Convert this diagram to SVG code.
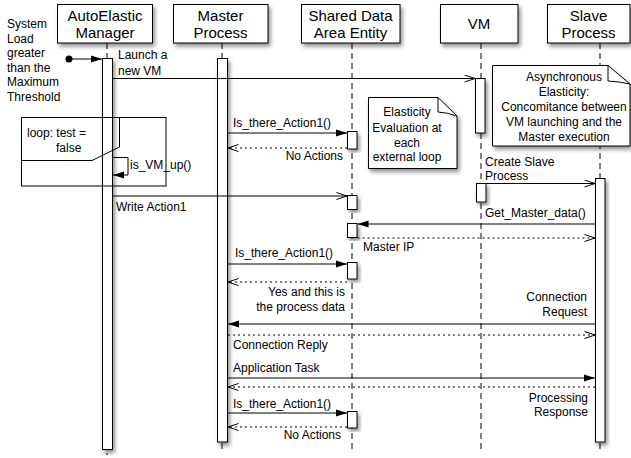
<svg xmlns="http://www.w3.org/2000/svg" width="631" height="458" viewBox="0 0 631 458">
<style>
text{font-family:"Liberation Sans",Arial,sans-serif;font-size:12px;fill:#000}
.hd{font-size:15px;text-anchor:middle}
.box{fill:#fff;stroke:#000;stroke-width:1}
.bar{fill:#fff;stroke:#000;stroke-width:1}
.life{stroke:#000;stroke-width:1;stroke-dasharray:6 4;fill:none}
.msg{stroke:#000;stroke-width:1;fill:none}
.ret{stroke:#000;stroke-width:1;fill:none;stroke-dasharray:2 3}
.r{text-anchor:end}
.c{text-anchor:middle}
</style>
<defs>
<filter id="sh" x="-50%" y="-20%" width="200%" height="140%">
<feGaussianBlur in="SourceAlpha" stdDeviation="2"/>
<feOffset dx="2" dy="3" result="o"/>
<feComponentTransfer><feFuncA type="linear" slope="0.45"/></feComponentTransfer>
<feMerge><feMergeNode/><feMergeNode in="SourceGraphic"/></feMerge>
</filter>
<marker id="fa" markerWidth="12" markerHeight="8" refX="11" refY="4" orient="auto" markerUnits="userSpaceOnUse">
<path d="M0,0.5 L11,4 L0,7.5 Z" fill="#000"/>
</marker>
<marker id="oa" markerWidth="12" markerHeight="10" refX="11" refY="4" orient="auto" markerUnits="userSpaceOnUse">
<path d="M0.5,0.5 L11,4 L0.5,7.5" fill="none" stroke="#000" stroke-width="1"/>
</marker>
</defs>
<rect width="631" height="458" fill="#fff"/>

<g id="system-load">
<text x="7" y="28">System</text>
<text x="7" y="42.5">Load</text>
<text x="7" y="57">greater</text>
<text x="7" y="71.5">than the</text>
<text x="7" y="86">Maximum</text>
<text x="7" y="100.5">Threshold</text>
</g>

<g id="autoelastic-manager">
<line class="life" x1="107" y1="43" x2="107" y2="455"/>
<rect class="box" x="57.5" y="4.5" width="95" height="38.5" filter="url(#sh)"/>
<text class="hd" x="105" y="20.5">AutoElastic</text>
<text class="hd" x="105" y="37.5">Manager</text>
<rect class="bar" x="102.5" y="58.5" width="10" height="391" filter="url(#sh)"/>
</g>

<g id="master-process">
<line class="life" x1="222" y1="43" x2="222" y2="453"/>
<rect class="box" x="173.5" y="4.5" width="94.5" height="38.5" filter="url(#sh)"/>
<text class="hd" x="220.5" y="20.5">Master</text>
<text class="hd" x="220.5" y="37.5">Process</text>
<rect class="bar" x="217.5" y="58.5" width="10" height="383.5" filter="url(#sh)"/>
</g>

<g id="shared-data-area-entity">
<line class="life" x1="352" y1="43" x2="352" y2="453"/>
<rect class="box" x="301.5" y="4.5" width="98.5" height="38.5" filter="url(#sh)"/>
<text class="hd" x="350.5" y="20.5">Shared Data</text>
<text class="hd" x="350.5" y="37.5">Area Entity</text>
<rect class="bar" x="347.5" y="131.5" width="9.5" height="17.5" filter="url(#sh)"/>
<rect class="bar" x="347.5" y="195.5" width="9.5" height="14" filter="url(#sh)"/>
<rect class="bar" x="347.5" y="223.5" width="9.5" height="14" filter="url(#sh)"/>
<rect class="bar" x="347.5" y="262.5" width="9.5" height="16.5" filter="url(#sh)"/>
<rect class="bar" x="347.5" y="411.5" width="9.5" height="16.5" filter="url(#sh)"/>
</g>

<g id="vm">
<line class="life" x1="481" y1="43" x2="481" y2="453"/>
<rect class="box" x="440.5" y="4.5" width="77.5" height="38.5" filter="url(#sh)"/>
<text class="hd" x="479" y="29">VM</text>
<rect class="bar" x="475.5" y="78.5" width="9.5" height="54.5" filter="url(#sh)"/>
<rect class="bar" x="476.5" y="183.5" width="9.5" height="18.5" filter="url(#sh)"/>
</g>

<g id="slave-process">
<line class="life" x1="600" y1="43" x2="600" y2="453"/>
<rect class="box" x="547.5" y="4.5" width="82.5" height="38.5" filter="url(#sh)"/>
<text class="hd" x="588.5" y="20.5">Slave</text>
<text class="hd" x="588.5" y="37.5">Process</text>
<rect class="bar" x="595.5" y="178.5" width="9.5" height="263.5" filter="url(#sh)"/>
</g>

<g id="note-elasticity">
<path class="box" d="M368.5,97.5 H438 L457,116 V168.5 H368.5 Z" filter="url(#sh)"/>
<path d="M438,97.5 V112 Q447,112.5 457,116" fill="none" stroke="#000"/>
<text class="c" x="407" y="116">Elasticity</text>
<text class="c" x="407" y="132">Evaluation at</text>
<text class="c" x="407" y="146.5">each</text>
<text class="c" x="407" y="161">external loop</text>
</g>

<g id="note-async">
<path class="box" d="M492.5,65.5 H608 L630,84 V146 H492.5 Z" filter="url(#sh)"/>
<path d="M608,65.5 V81 Q619,81.5 630,84" fill="none" stroke="#000"/>
<text class="c" x="564" y="81">Asynchronous</text>
<text class="c" x="564" y="96">Elasticity:</text>
<text class="c" x="564" y="111">Concomitance between</text>
<text class="c" x="564" y="126">VM launching and the</text>
<text class="c" x="564" y="140.5">Master execution</text>
</g>

<g id="loop-frame">
<rect x="21.5" y="117.5" width="144.5" height="68.5" fill="none" stroke="#000"/>
<path d="M21.5,117.5 H119.5 V147 L92,160.5 H21.5" fill="none" stroke="#000"/>
<text x="27" y="137">loop: test =</text>
<text x="56" y="152">false</text>
</g>

<g id="connectors">
<circle cx="69" cy="59" r="3.5" fill="#000"/>
<line class="msg" x1="69" y1="59" x2="102" y2="59" marker-end="url(#fa)"/>
<line class="msg" x1="112.5" y1="78.5" x2="475" y2="78.5" marker-end="url(#oa)"/>
<text x="118" y="59">Launch a</text>
<text x="118" y="75">new VM</text>

<line class="msg" x1="227.5" y1="133" x2="347" y2="133" marker-end="url(#fa)"/>
<text x="233" y="127">Is_there_Action1()</text>
<line class="ret" x1="347" y1="148" x2="228" y2="148" marker-end="url(#oa)"/>
<text class="r" x="343" y="160">No Actions</text>

<path class="msg" d="M112.5,157.5 H128 V175 H113" marker-end="url(#fa)"/>
<text x="130" y="169">is_VM_up()</text>

<line class="msg" x1="112.5" y1="196" x2="347" y2="196" marker-end="url(#oa)"/>
<text x="116" y="211">Write Action1</text>

<line class="msg" x1="486" y1="183.5" x2="595" y2="183.5" marker-end="url(#oa)"/>
<text x="485" y="166">Create Slave</text>
<text x="485" y="180">Process</text>

<line class="msg" x1="595" y1="224" x2="357.5" y2="224" marker-end="url(#fa)"/>
<text x="485" y="217">Get_Master_data()</text>
<line class="ret" x1="357.5" y1="238" x2="595" y2="238" marker-end="url(#oa)"/>
<text x="363" y="251">Master IP</text>

<line class="msg" x1="227.5" y1="264" x2="347" y2="264" marker-end="url(#fa)"/>
<text x="235" y="257">Is_there_Action1()</text>
<line class="ret" x1="347" y1="282" x2="228" y2="282" marker-end="url(#oa)"/>
<text class="r" x="345" y="296">Yes and this is</text>
<text class="r" x="345" y="311">the process data</text>

<line class="msg" x1="595" y1="324" x2="228" y2="324" marker-end="url(#fa)"/>
<text class="r" x="587" y="301">Connection</text>
<text class="r" x="587" y="316">Request</text>
<line class="ret" x1="228" y1="335" x2="595" y2="335" marker-end="url(#oa)"/>
<text x="233" y="349">Connection Reply</text>

<line class="msg" x1="227.5" y1="378" x2="595" y2="378" marker-end="url(#fa)"/>
<text x="233" y="372">Application Task</text>
<line class="ret" x1="595" y1="387" x2="228" y2="387" marker-end="url(#oa)"/>
<text class="r" x="588" y="402">Processing</text>
<text class="r" x="588" y="416">Response</text>

<line class="msg" x1="227.5" y1="413" x2="347" y2="413" marker-end="url(#fa)"/>
<text x="233" y="408">Is_there_Action1()</text>
<line class="ret" x1="347" y1="427" x2="228" y2="427" marker-end="url(#oa)"/>
<text class="r" x="341" y="439">No Actions</text>
</g>
</svg>
